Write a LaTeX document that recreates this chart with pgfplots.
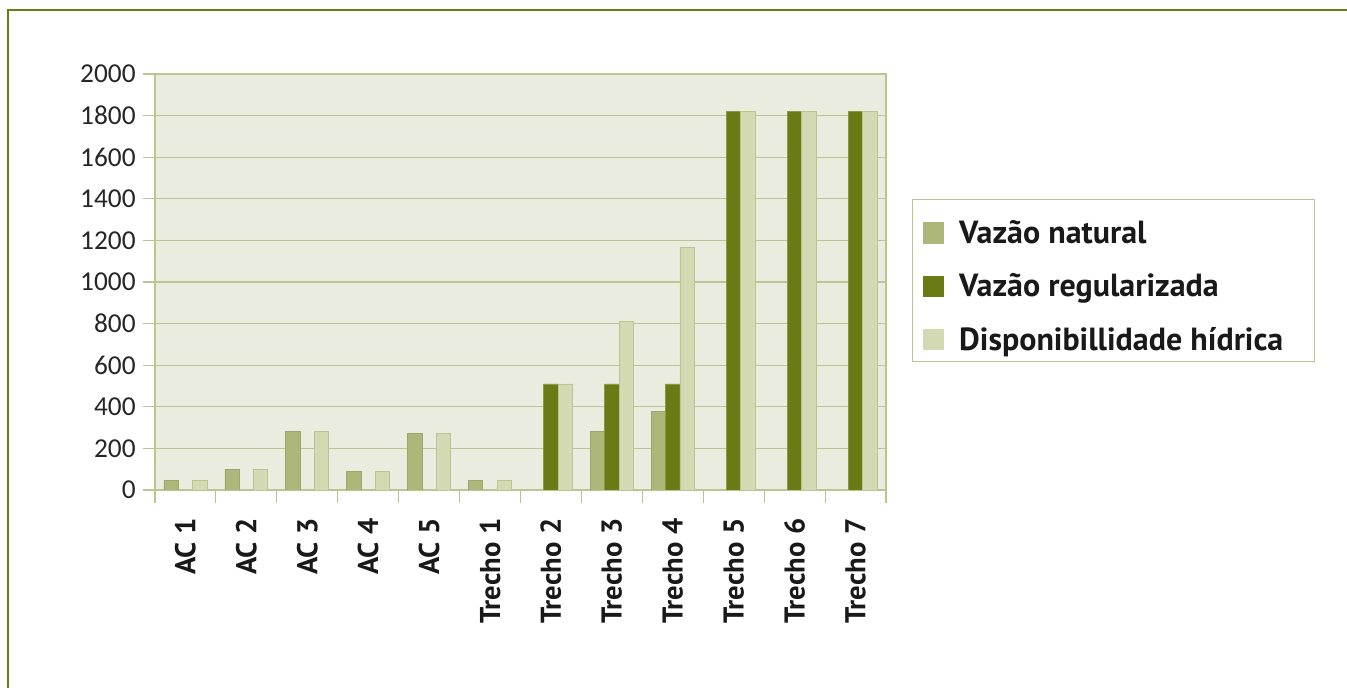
\documentclass[border=0pt]{standalone}
\usepackage{pgfplots}
\pgfplotsset{compat=1.18}
\usepackage{fontspec}
\setmainfont{PT Sans}
\newfontfamily\tickfont{Carlito}
\definecolor{natc}{HTML}{ADB77A}
\definecolor{regc}{HTML}{6A7A14}
\definecolor{dispc}{HTML}{D3D9B3}
\definecolor{bgc}{HTML}{E9ECDE}
\definecolor{gridc}{HTML}{BCC592}
\definecolor{framec}{HTML}{6B7B15}
\begin{document}
\begin{tikzpicture}
\path[use as bounding box] (0pt,0pt) rectangle (1010.25pt,516pt);
\draw[framec, line width=2.1pt] (6pt,0pt) -- (6pt,508.5pt) -- (1010.25pt,508.5pt);
\begin{axis}[
  at={(116.25pt,148.5pt)}, anchor=south west,
  scale only axis, width=548.25pt, height=312pt,
  ybar, bar width=0.235,
  xmin=-0.5, xmax=11.5, ymin=0, ymax=2000,
  axis background/.style={fill=bgc},
  axis line style={gridc, line width=0.8pt},
  ymajorgrids, grid style={gridc, line width=0.8pt},
  ytick={0,200,...,2000},
  scaled y ticks=false,
  /pgf/number format/1000 sep={},
  /pgf/number format/assume math mode=true,
  tick align=outside,
  ytick pos=left, xtick pos=bottom,
  major tick length=9pt, minor tick length=9.75pt,
  tick style={gridc, line width=0.8pt},
  major x tick style={draw=none},
  xtick={0,...,11},
  minor xtick={-0.5,0.5,...,11.5},
  xticklabels={AC 1,AC 2,AC 3,AC 4,AC 5,Trecho 1,Trecho 2,Trecho 3,Trecho 4,Trecho 5,Trecho 6,Trecho 7},
  xticklabel style={rotate=90, anchor=east, font=\bfseries\fontsize{21.5}{23}\selectfont, text=black!90},
  xticklabel shift=9pt,
  yticklabel style={font=\tickfont\fontsize{20.5}{22}\selectfont, text=black!85},
  yticklabel shift=2pt,
  legend style={at={(axis description cs:1.0356,0.6995)}, anchor=north west,
    draw=gridc, line width=0.8pt, fill=white, font=\bfseries\fontsize{24}{26}\selectfont,
    row sep=8.6pt, inner xsep=7.5pt, inner ysep=5pt, text=black!90},
  legend cell align=left,
  legend image code/.code={\fill[#1,draw=none] (0pt,-8pt) rectangle (16pt,8pt);
     \path[draw=none,fill=none] (0pt,-8pt) rectangle (25.5pt,20pt);},
]
\addplot[fill=natc, draw=natc!90!black, line width=0.6pt, bar shift=-0.235] coordinates {
(0,45) (1,100) (2,283) (3,91) (4,273) (5,45) (7,283) (8,378)};
\addplot[fill=regc, draw=regc!60!gridc, line width=0.6pt, bar shift=0] coordinates {
(6,510) (7,510) (8,510) (9,1820) (10,1820) (11,1820)};
\addplot[fill=dispc, draw=gridc, line width=0.6pt, bar shift=0.235] coordinates {
(0,45) (1,100) (2,283) (3,91) (4,273) (5,45) (6,510) (7,810) (8,1165) (9,1820) (10,1820) (11,1820)};
\legend{Vazão natural, Vazão regularizada, Disponibillidade hídrica\rule{14pt}{0pt}}
\end{axis}
\end{tikzpicture}
\end{document}
